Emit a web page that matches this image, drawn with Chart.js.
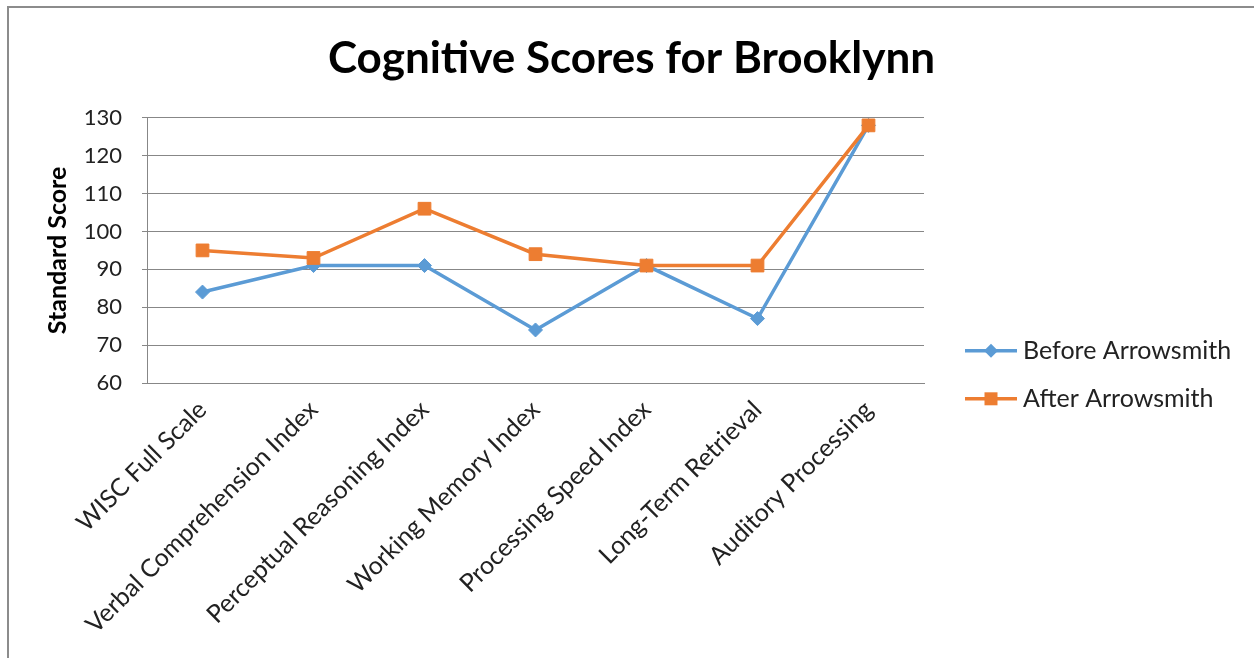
<!DOCTYPE html>
<html>
<head>
<meta charset="utf-8">
<script src="https://cdn.jsdelivr.net/npm/chart.js@4"></script>
<style>
  html, body { margin: 0; background: #fff; }
  #frame {
    position: absolute; left: 7px; top: 6px; width: 1247px; height: 652px;
    border-left: 2px solid #8c8c8c; border-top: 2px solid #8c8c8c;
  }
  #wrap { position: absolute; left: 0; top: 0; width: 1245px; height: 650px; }
</style>
</head>
<body>
<div id="frame"><div id="wrap"><canvas id="chart"></canvas></div></div>
<script>
const categories = [
  'WISC Full Scale',
  'Verbal Comprehension Index',
  'Perceptual Reasoning Index',
  'Working Memory Index',
  'Processing Speed Index',
  'Long-Term Retrieval',
  'Auditory Processing'
];
const beforeScores = [84, 91, 91, 74, 91, 77, 128];
const afterScores = [95, 93, 106, 94, 91, 91, 128];
const seriesNames = ['Before Arrowsmith', 'After Arrowsmith'];
const yMin = 60, yMax = 130, yStep = 10;

const BLUE = '#5B9BD5';
const ORANGE = '#ED7D31';
const GRID = '#878787';
const FONT = 'Lato, "Open Sans", sans-serif';

// legend on the right: short line with the marker in its middle, then the label
const sideLegend = {
  id: 'sideLegend',
  afterDraw(chart){
    const ctx = chart.ctx, a = chart.chartArea;
    chart.data.datasets.forEach((ds, i) => {
      const x0 = a.right + 41, x1 = x0 + 52;
      const y = a.top + 233 + i * 48;
      ctx.save();
      ctx.strokeStyle = ds.borderColor;
      ctx.lineWidth = 3.5;
      ctx.beginPath(); ctx.moveTo(x0, y); ctx.lineTo(x1, y); ctx.stroke();
      ctx.fillStyle = ds.borderColor;
      const cx = (x0 + x1) / 2;
      ctx.beginPath();
      if(ds.pointStyle === 'rectRot'){
        ctx.moveTo(cx - 7, y); ctx.lineTo(cx, y - 7); ctx.lineTo(cx + 7, y); ctx.lineTo(cx, y + 7);
      } else {
        ctx.rect(cx - 6.5, y - 6.5, 13, 13);
      }
      ctx.closePath(); ctx.fill();
      ctx.fillStyle = '#222';
      ctx.font = '25px ' + FONT;
      ctx.textBaseline = 'middle';
      ctx.textAlign = 'left';
      ctx.fillText(ds.label, x1 + 6, y);
      ctx.restore();
    });
  }
};

new Chart(document.getElementById('chart'), {
  type: 'line',
  data: {
    labels: categories,
    datasets: [
      {
        label: seriesNames[0], data: beforeScores, order: 1,
        borderColor: BLUE, backgroundColor: BLUE, borderWidth: 3.5,
        pointStyle: 'rectRot', pointRadius: 7, pointBorderWidth: 1,
        pointBackgroundColor: BLUE, pointBorderColor: BLUE, tension: 0
      },
      {
        label: seriesNames[1], data: afterScores, order: 0,
        borderColor: ORANGE, backgroundColor: ORANGE, borderWidth: 3.5,
        pointStyle: 'rect', pointRadius: 9, pointBorderWidth: 1,
        pointBackgroundColor: ORANGE, pointBorderColor: ORANGE, tension: 0
      }
    ]
  },
  options: {
    responsive: true,
    maintainAspectRatio: false,
    animation: false,
    layout: { padding: 0 },
    plugins: {
      legend: { display: false },
      tooltip: { enabled: false },
      title: {
        display: true,
        text: 'Cognitive Scores for Brooklynn',
        color: '#000',
        font: { family: FONT, size: 44, weight: 'bold' },
        padding: { top: 24, bottom: 33 }
      }
    },
    scales: {
      x: {
        offset: true,
        grid: { display: false },
        border: { display: true, color: GRID, width: 1 },
        ticks: {
          color: '#222', maxRotation: 45, minRotation: 45, autoSkip: false, padding: 4,
          font: { family: FONT, size: 25 }
        },
        afterFit(scale){ scale.height = 275; }
      },
      y: {
        min: yMin, max: yMax,
        grid: { color: GRID, lineWidth: 1, drawTicks: true, tickLength: 5, tickColor: GRID },
        border: { display: true, color: GRID, width: 1 },
        ticks: {
          stepSize: yStep, color: '#222', padding: 20,
          font: { family: FONT, size: 22 }
        },
        title: {
          display: true, text: 'Standard Score', color: '#000',
          font: { family: FONT, size: 25, weight: 'bold' },
          padding: { top: 34, bottom: 0 }
        },
        afterFit(scale){ scale.width = 138; }
      },
      // empty right-hand box that keeps room for the legend
      legendRoom: {
        type: 'linear', position: 'right', display: true,
        grid: { display: false }, border: { display: false }, ticks: { display: false },
        afterFit(scale){ scale.width = 330; }
      }
    }
  },
  plugins: [sideLegend]
});
</script>
</body>
</html>
